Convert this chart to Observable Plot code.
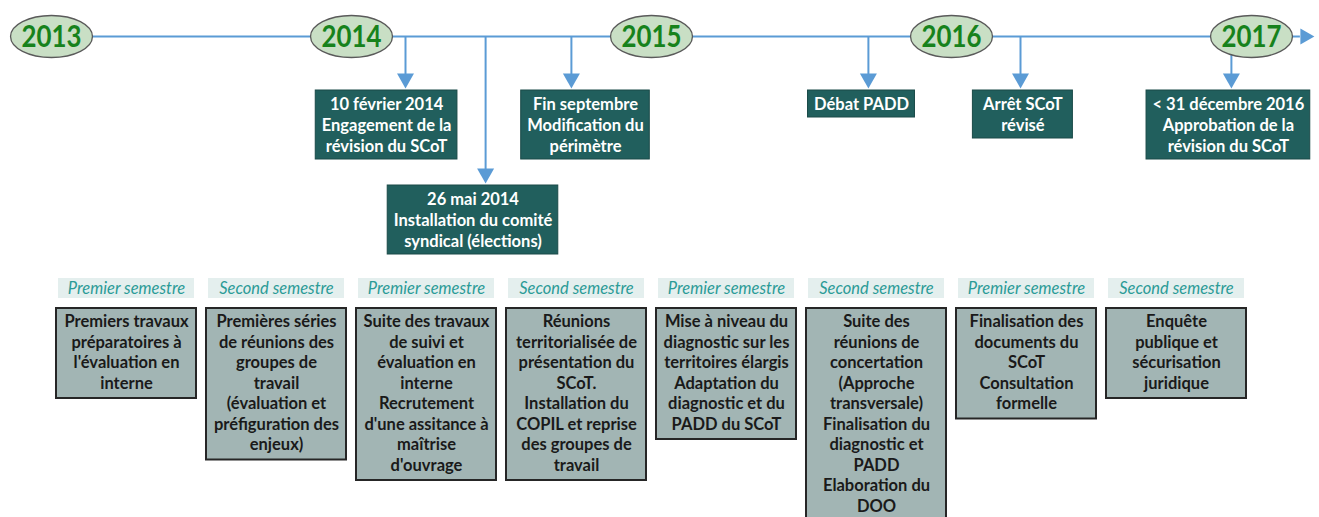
<!DOCTYPE html>
<html><head><meta charset="utf-8">
<script src="https://cdn.jsdelivr.net/npm/d3@7"></script>
<script src="https://cdn.jsdelivr.net/npm/@observablehq/plot@0.6"></script>
<style>
body{margin:0;background:#fff;}
#chart svg{display:block;}
</style>
</head><body><div id="chart"></div>
<script>
// ---------- data ----------
const years = [2013, 2014, 2015, 2016, 2017];

const eventDates   = [2014.18, 2014.447, 2014.733, 2015.723, 2016.23, 2016.933];
const eventCenters = [2014.117, 2014.405, 2014.78, 2015.70, 2016.238, 2016.923];
const eventRows    = [1, 2, 1, 1, 1, 1];
const eventTexts = [
  "10 février 2014\nEngagement de la\nrévision du SCoT",
  "26 mai 2014\nInstallation du comité\nsyndical (élections)",
  "Fin septembre\nModification du\npérimètre",
  "Débat PADD",
  "Arrêt SCoT\nrévisé",
  "< 31 décembre 2016\nApprobation de la\nrévision du SCoT"
];

const semesterStarts = [2013, 2013.5, 2014, 2014.5, 2015, 2015.5, 2016, 2016.5];
const semesterLabels = ["Premier semestre", "Second semestre", "Premier semestre", "Second semestre",
                        "Premier semestre", "Second semestre", "Premier semestre", "Second semestre"];
const phaseTexts = [
  "Premiers travaux\npréparatoires à\nl'évaluation en\ninterne",
  "Premières séries\nde réunions des\ngroupes de\ntravail\n(évaluation et\npréfiguration des\nenjeux)",
  "Suite des travaux\nde suivi et\névaluation en\ninterne\nRecrutement\nd'une assitance à\nmaîtrise\nd'ouvrage",
  "Réunions\nterritorialisée de\nprésentation du\nSCoT.\nInstallation du\nCOPIL et reprise\ndes groupes de\ntravail",
  "Mise à niveau du\ndiagnostic sur les\nterritoires élargis\nAdaptation du\ndiagnostic et du\nPADD du SCoT",
  "Suite des\nréunions de\nconcertation\n(Approche\ntransversale)\nFinalisation du\ndiagnostic et\nPADD\nElaboration du\nDOO",
  "Finalisation des\ndocuments du\nSCoT\nConsultation\nformelle",
  "Enquête\npublique et\nsécurisation\njuridique"
];

// ---------- layout ----------
const W = 1319, H = 517;
const xDomain = [2013, 2017], xRange = [51, 1251];
const pxPerYear = (xRange[1] - xRange[0]) / (xDomain[1] - xDomain[0]);
const FONT = "Lato, 'Open Sans', sans-serif";
const FS = 16.5, LH_EV = 21, LH_PH = 20.5;
const lineY = 36, rowTop = {1: 90, 2: 185};
const semY = 288, phaseTop = 308;
const blue = "#5b9bd5", teal = "#215f5d";

const ctx = document.createElement("canvas").getContext("2d");
ctx.font = `bold ${FS}px Lato`;
const textW = s => d3.max(s.split("\n"), l => ctx.measureText(l).width);

const events = eventTexts.map((text, i) => {
  const n = text.split("\n").length;
  const w = Math.max(textW(text) + 12, 100) / pxPerYear;
  const top = rowTop[eventRows[i]];
  return {text, date: eventDates[i], x1: eventCenters[i] - w / 2, x2: eventCenters[i] + w / 2,
          center: eventCenters[i], y1: top, y2: top + n * LH_EV + 6, tip: top - 2, line: lineY};
});
const semesters = semesterStarts.map((s, i) => {
  const n = phaseTexts[i].split("\n").length;
  return {x1: s, x2: s + 0.5, mid: s + 0.25, label: semesterLabels[i], text: phaseTexts[i],
          y1: phaseTop, y2: phaseTop + n * LH_PH + 8};
});

const ellipse = {draw(c, size) {
  const ry = Math.sqrt(size / Math.PI), rx = ry * 1.95, k = 0.5523;
  c.moveTo(rx, 0);
  c.bezierCurveTo(rx, ry * k, rx * k, ry, 0, ry);
  c.bezierCurveTo(-rx * k, ry, -rx, ry * k, -rx, 0);
  c.bezierCurveTo(-rx, -ry * k, -rx * k, -ry, 0, -ry);
  c.bezierCurveTo(rx * k, -ry, rx, -ry * k, rx, 0);
  c.closePath();
}};
const headDown = {draw(c) { c.moveTo(0, 0); c.lineTo(-8.5, -15); c.lineTo(8.5, -15); c.closePath(); }};
const headRight = {draw(c) { c.moveTo(0, 0); c.lineTo(-14, -8); c.lineTo(-14, 8); c.closePath(); }};

const axisLine = [{x1: xDomain[0], x2: 2017.163, y: lineY}];

const chart = Plot.plot({
  width: W, height: H,
  margin: 0,
  x: {domain: xDomain, range: xRange, axis: null},
  y: {domain: [0, H], range: [0, H], axis: null},
  style: {fontFamily: FONT, background: "#fff"},
  marks: [
    // timeline
    Plot.ruleY(axisLine, {x1: "x1", x2: "x2", y: "y", stroke: blue, strokeWidth: 2}),
    Plot.dot(axisLine, {x: "x2", y: "y", symbol: headRight, r: 5, fill: blue, stroke: "none", dx: 14}),
    // event stems and heads
    Plot.ruleX(events, {x: "date", y1: "line", y2: d => d.tip - 12, stroke: blue, strokeWidth: 2}),
    Plot.dot(events, {x: "date", y: "tip", symbol: headDown, r: 5, fill: blue, stroke: "none"}),
    // year ellipses
    Plot.dot(years, {x: d => d, y: () => lineY, symbol: ellipse, r: 21, fill: "#c9dfc5", stroke: "#5a5a5a", strokeWidth: 1.3}),
    Plot.text(years, {x: d => d, y: () => lineY + 1, text: d => String(d), fill: "#17821c",
      fontSize: 31, fontWeight: "bold", fontFamily: "Lato"}),
    // event boxes
    Plot.rect(events, {x1: "x1", x2: "x2", y1: "y1", y2: "y2", fill: teal, stroke: "#1a4a48", strokeWidth: 1}),
    Plot.text(events, {x: "center", y: d => d.y1 + 5, text: "text", lineAnchor: "top", lineHeight: LH_EV / FS,
      fill: "#fff", fontSize: FS, fontWeight: "bold", fontFamily: "Lato"}),
    // semester labels
    Plot.rect(semesters, {x1: "x1", x2: "x2", y1: () => semY - 10, y2: () => semY + 10, insetLeft: 7, insetRight: 7, fill: "#e4efee"}),
    Plot.text(semesters, {x: "mid", y: () => semY, text: "label", fill: "#2b9b97", fontSize: 16.5,
      fontStyle: "italic", fontFamily: "Lato"}),
    // phase boxes
    Plot.rect(semesters, {x1: "x1", x2: "x2", y1: "y1", y2: "y2", insetLeft: 5, insetRight: 5,
      fill: "#a2b5b4", stroke: "#262626", strokeWidth: 2}),
    Plot.text(semesters, {x: "mid", y: d => d.y1 + 4, text: "text", lineAnchor: "top", lineHeight: LH_PH / FS,
      fill: "#1a1a1a", fontSize: FS, fontWeight: "bold", fontFamily: "Lato"})
  ]
});
// condense the year labels to the narrow face of the original
d3.select(chart).selectAll("text")
  .filter(function() { return /^\d{4}$/.test(this.textContent); })
  .attr("textLength", 60).attr("lengthAdjust", "spacingAndGlyphs");
document.getElementById("chart").appendChild(chart);
</script>
</body></html>
